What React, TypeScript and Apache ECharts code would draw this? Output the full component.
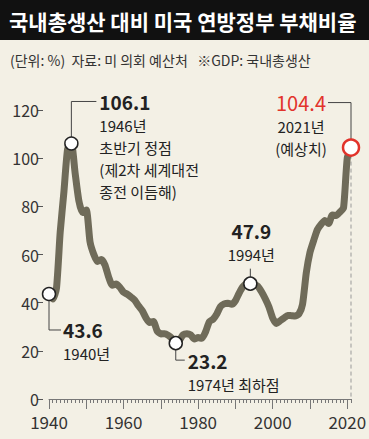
import React, { useEffect, useRef } from 'react';
import * as echarts from 'echarts';

const years: string[] = Array.from({ length: 82 }, (_, i) => String(1940 + i));
const debtRatio: number[] = [
  43.6, 41.5, 45.9, 69.2, 86.0, 103.9, 106.1, 93.9, 82.4, 77.4,
  78.5, 65.3, 60.1, 57.1, 57.9, 55.7, 50.6, 47.2, 47.7, 46.4,
  44.3, 43.5, 42.3, 41.0, 38.7, 36.7, 33.7, 31.8, 32.2, 28.3,
  27.0, 27.1, 26.4, 25.1, 23.2, 24.5, 26.7, 27.1, 26.6, 24.9,
  25.5, 25.2, 27.9, 32.1, 33.1, 35.3, 38.4, 39.5, 39.8, 39.3,
  40.8, 44.0, 46.6, 47.8, 47.9, 47.5, 46.8, 44.5, 41.6, 38.2,
  33.6, 31.4, 32.5, 33.6, 34.7, 34.6, 34.5, 35.2, 39.3, 52.3,
  60.9, 65.9, 70.4, 72.6, 74.1, 72.9, 76.4, 76.2, 77.6, 79.4,
  100.1, 104.4,
];
const markYears = ['1940', '1946', '1974', '1994', '2021'];
const markValues = [43.6, 106.1, 23.2, 47.9, 104.4];
const markNotes: string[][] = [
  ['1940년'],
  ['1946년', '초반기 정점', '(제2차 세계대전', '종전 이듬해)'],
  ['1974년 최하점'],
  ['1994년'],
  ['2021년', '(예상치)'],
];
const titleText = '국내총생산 대비 미국 연방정부 부채비율';
const subText = '(단위: %)  자료: 미 의회 예산처   ※GDP: 국내총생산';

const FONT = "'Liberation Sans Narrow', 'Arial Narrow', 'Noto Sans CJK KR', sans-serif";
const KFONT = "'Noto Sans CJK KR', sans-serif";
const BG = '#f3f0e5';
const LINE = '#6f6b59';
const RED = '#e2332b';
const INK = '#222222';
const GAP1 = 24; // value line -> first note line
const GAP = 22; // note -> note

export default function App() {
  const ref = useRef<HTMLDivElement>(null);
  useEffect(() => {
    if (!ref.current) return;
    const chart = echarts.init(ref.current, undefined, { renderer: 'svg' });
    const axisText = { color: '#333', fontFamily: FONT };
    chart.setOption({
      animation: false,
      backgroundColor: BG,
      grid: { left: 49, right: 18, top: 110, bottom: 40, outerBoundsMode: 'none' },
      xAxis: [
        {
          type: 'category',
          data: years,
          boundaryGap: false,
          position: 'bottom',
          axisLine: { show: true, lineStyle: { color: '#777', width: 1 } },
          axisTick: { show: true, interval: 0, length: 4, lineStyle: { color: '#777' } },
          axisLabel: {
            interval: (i: number, v: string) => Number(v) % 20 === 0,
            showMinLabel: true,
            margin: 14,
            fontSize: 17,
            ...axisText,
          },
          splitLine: { show: false },
        },
        {
          type: 'category',
          data: years,
          boundaryGap: false,
          position: 'bottom',
          axisLine: { show: false },
          axisTick: {
            show: true,
            interval: (i: number, v: string) => Number(v) % 10 === 0,
            length: 10,
            lineStyle: { color: '#777' },
          },
          axisLabel: { show: false },
          splitLine: { show: false },
        },
      ],
      yAxis: {
        type: 'value',
        min: 0,
        max: 120,
        interval: 20,
        offset: 6,
        axisLine: { show: false },
        axisTick: { show: true, length: 6, lineStyle: { color: '#555' } },
        axisLabel: { margin: 4, fontSize: 16, ...axisText },
        splitLine: { show: false },
      },
      series: [
        {
          type: 'line',
          data: debtRatio,
          showSymbol: false,
          smooth: 0.2,
          lineStyle: { color: LINE, width: 7, cap: 'round', join: 'round' },
          z: 2,
        },
        {
          type: 'scatter',
          z: 4,
          data: markYears.map((y, i) => ({
            value: [y, markValues[i]],
            symbolSize: i === 4 ? 16 : 13,
            itemStyle: {
              color: '#ffffff',
              borderColor: i === 4 ? RED : INK,
              borderWidth: i === 4 ? 2.5 : 1.5,
              opacity: 1,
            },
          })),
        },
      ],
    });

    const px = markYears.map((y, i) => chart.convertToPixel({ xAxisIndex: 0, yAxisIndex: 0 }, [y, markValues[i]]) as number[]);
    const base = chart.convertToPixel({ xAxisIndex: 0, yAxisIndex: 0 }, ['2021', 0]) as number[];
    const g: any[] = [];
    const lead = (pts: number[][]) => g.push({ type: 'polyline', z: 1, shape: { points: pts }, style: { stroke: '#444', lineWidth: 1, fill: null } });
    const txt = (text: string, x: number, y: number, opts: any = {}) =>
      g.push({
        type: 'text', z: 10, x, y,
        style: {
          text, fill: opts.fill || INK, textAlign: opts.align || 'left', textVerticalAlign: 'middle',
          fontFamily: FONT, fontSize: opts.size || 15, fontWeight: opts.bold ? 'bold' : 'normal',
        },
      });
    // value line then note lines
    const block = (value: string, notes: string[], x: number, y0: number, opts: any = {}) => {
      txt(value, x, y0, { bold: !opts.red, size: opts.red ? 20 : 19, fill: opts.red ? RED : INK, align: opts.align });
      notes.forEach((s, k) => txt(s, x, y0 + GAP1 + GAP * k, { align: opts.align }));
    };

    g.push({ type: 'rect', z: 0, shape: { x: 0, y: 0, width: 369, height: 40 }, style: { fill: '#111111' } });
    g.push({ type: 'text', z: 10, x: 9, y: 21, style: { text: titleText, fill: '#ffffff', fontFamily: KFONT, fontSize: 21, fontWeight: 'bold', textVerticalAlign: 'middle' } });
    g.push({ type: 'text', z: 10, x: 10, y: 60, style: { text: subText, fill: '#333', fontFamily: KFONT, fontSize: 14, textVerticalAlign: 'middle' } });

    // 1940
    let [x, y] = px[0];
    lead([[x, y], [x, y + 36], [x + 12, y + 36]]);
    block(String(markValues[0]), markNotes[0], x + 14, y + 36);
    // 1946
    [x, y] = px[1];
    const ty = y - 42;
    lead([[x, y], [x, ty], [x + 25, ty]]);
    block(String(markValues[1]), markNotes[1], x + 28, ty);
    // 1974
    [x, y] = px[2];
    lead([[x, y], [x, y + 17], [x + 9, y + 17]]);
    block(String(markValues[2]), markNotes[2], x + 12, y + 17);
    // 1994
    [x, y] = px[3];
    lead([[x, y], [x, y - 15]]);
    block(String(markValues[3]), markNotes[3], x + 1, y - 53, { align: 'center' });
    // 2021
    [x, y] = px[4];
    g.push({ type: 'line', z: 1, shape: { x1: x, y1: y, x2: x, y2: base[1] }, style: { stroke: '#999', lineWidth: 1, lineDash: [4, 3] } });
    lead([[x, y], [x, y - 45], [x - 23, y - 45]]);
    block(String(markValues[4]), markNotes[4], x - 50, y - 45, { align: 'center', red: true });

    chart.setOption({ graphic: g });
    return () => chart.dispose();
  }, []);
  return <div ref={ref} style={{ position: 'fixed', left: 0, top: 0, width: 369, height: 439 }} />;
}
